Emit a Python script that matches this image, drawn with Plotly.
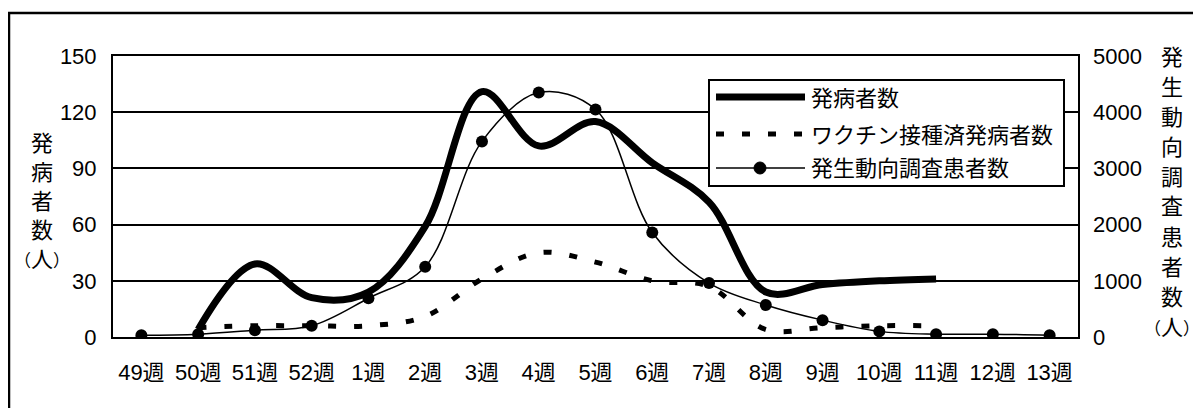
import plotly.graph_objects as go

# ---- data ----
weeks = ["49週", "50週", "51週", "52週", "1週", "2週", "3週", "4週", "5週",
         "6週", "7週", "8週", "9週", "10週", "11週", "12週", "13週"]
onset = [None, 4, 39, 21, 24, 59, 131, 102, 115, 93, 72, 24, 28, 30, 31, None, None]
vaccinated = [None, 5, 6, 6, 6, 11, 31, 45, 40, 30, 27, 4, 5, 6, 6, None, None]
survey = [30, 50, 120, 200, 690, 1250, 3480, 4350, 4050, 1860, 960, 570, 300, 100, 50, 50, 30]
left_ticks = [0, 30, 60, 90, 120, 150]
right_ticks = [0, 1000, 2000, 3000, 4000, 5000]
names = ["発病者数", "ワクチン接種済発病者数", "発生動向調査患者数"]
left_title = ["発", "病", "者", "数", "（人）"]
right_title = ["発", "生", "動", "向", "調", "査", "患", "者", "数", "（人）"]

# ---- layout geometry (page pixels; the page body adds an 8px offset) ----
OX, OY = 8, 8
VW, VH = 1201, 408
W, H = VW - OX, VH - OY
L, R, T, B = 113, 1078, 56, 337
FONT = "Liberation Sans, Noto Sans CJK JP, sans-serif"
FS = 22
INK = "#000000"


def px(x):
    return (x - L) / (R - L)


def py(y):
    return (B - y) / (B - T)


def title_char(ch):
    # full-width brackets drawn a little smaller so the unit fits the page
    if ch.startswith("（"):
        return "<span style='font-size:17px'>（</span>人<span style='font-size:17px'>）</span>"
    return ch


fig = go.Figure()
fig.add_trace(go.Scatter(
    x=weeks, y=survey, name=names[2], yaxis="y2", mode="lines+markers",
    line=dict(color=INK, width=1.5, shape="spline", smoothing=1),
    marker=dict(color=INK, size=12), showlegend=False))
fig.add_trace(go.Scatter(
    x=weeks, y=vaccinated, name=names[1], mode="lines",
    line=dict(color=INK, width=5, dash="8px,18px", shape="spline", smoothing=1),
    showlegend=False))
fig.add_trace(go.Scatter(
    x=weeks, y=onset, name=names[0], mode="lines",
    line=dict(color=INK, width=7, shape="spline", smoothing=1),
    showlegend=False))

shapes = []
annotations = []

# outer frame
shapes.append(dict(type="rect", xref="paper", yref="paper",
                   x0=px(9), x1=px(1199.5), y0=py(430), y1=py(13),
                   line=dict(color=INK, width=2.5), layer="above"))

# custom legend
shapes.append(dict(type="rect", xref="paper", yref="paper",
                   x0=px(709), x1=px(1064), y0=py(186), y1=py(80),
                   line=dict(color=INK, width=2), fillcolor="white", layer="above"))
shapes.append(dict(type="line", xref="paper", yref="paper",
                   x0=px(716), x1=px(805), y0=py(97), y1=py(97),
                   line=dict(color=INK, width=7), layer="above"))
shapes.append(dict(type="line", xref="paper", yref="paper",
                   x0=px(716), x1=px(805), y0=py(134), y1=py(134),
                   line=dict(color=INK, width=5, dash="8px,18px"), layer="above"))
shapes.append(dict(type="line", xref="paper", yref="paper",
                   x0=px(716), x1=px(805), y0=py(168), y1=py(168),
                   line=dict(color=INK, width=1.5), layer="above"))
shapes.append(dict(type="circle", xref="paper", yref="paper",
                   x0=px(754), x1=px(766), y0=py(174), y1=py(162),
                   line=dict(color=INK, width=1), fillcolor=INK, layer="above"))
for name, yy in zip(names, [98, 135, 168]):
    annotations.append(dict(text=name, xref="paper", yref="paper",
                            x=px(809), y=py(yy), xanchor="left", yanchor="middle",
                            showarrow=False, font=dict(family=FONT, size=FS, color=INK)))

# axis titles (vertical, one character per line)
for i, ch in enumerate(left_title):
    annotations.append(dict(text=title_char(ch), xref="paper", yref="paper",
                            x=px(42), y=py(143 + 29 * i), xanchor="center", yanchor="middle",
                            showarrow=False, font=dict(family=FONT, size=FS, color=INK)))
for i, ch in enumerate(right_title):
    annotations.append(dict(text=title_char(ch), xref="paper", yref="paper",
                            x=px(1172), y=py(57 + 30 * i), xanchor="center", yanchor="middle",
                            showarrow=False, font=dict(family=FONT, size=FS, color=INK)))

fig.update_layout(
    width=W, height=H,
    margin=dict(l=L - OX, r=VW - R, t=T - OY, b=VH - B, pad=0),
    paper_bgcolor="white", plot_bgcolor="white",
    font=dict(family=FONT, size=FS, color=INK),
    showlegend=False,
    xaxis=dict(type="category", categoryorder="array", categoryarray=weeks,
               range=[-0.5, len(weeks) - 0.5], showgrid=False, ticks="",
               showline=True, linecolor=INK, linewidth=2, mirror=True,
               ticklabelstandoff=15, tickfont=dict(family=FONT, size=FS, color=INK)),
    yaxis=dict(range=[0, 150], tickvals=left_ticks, showgrid=True, gridcolor=INK,
               gridwidth=2, zeroline=False, ticks="",
               showline=True, linecolor=INK, linewidth=2, mirror=True,
               ticklabelstandoff=10, tickfont=dict(family=FONT, size=FS, color=INK)),
    yaxis2=dict(range=[0, 5000], tickvals=right_ticks, overlaying="y", side="right",
                showgrid=False, zeroline=False, ticks="", showline=False,
                ticklabelstandoff=14, tickfont=dict(family=FONT, size=FS, color=INK)),
    shapes=shapes, annotations=annotations,
)

fig.write_html("out.html")
